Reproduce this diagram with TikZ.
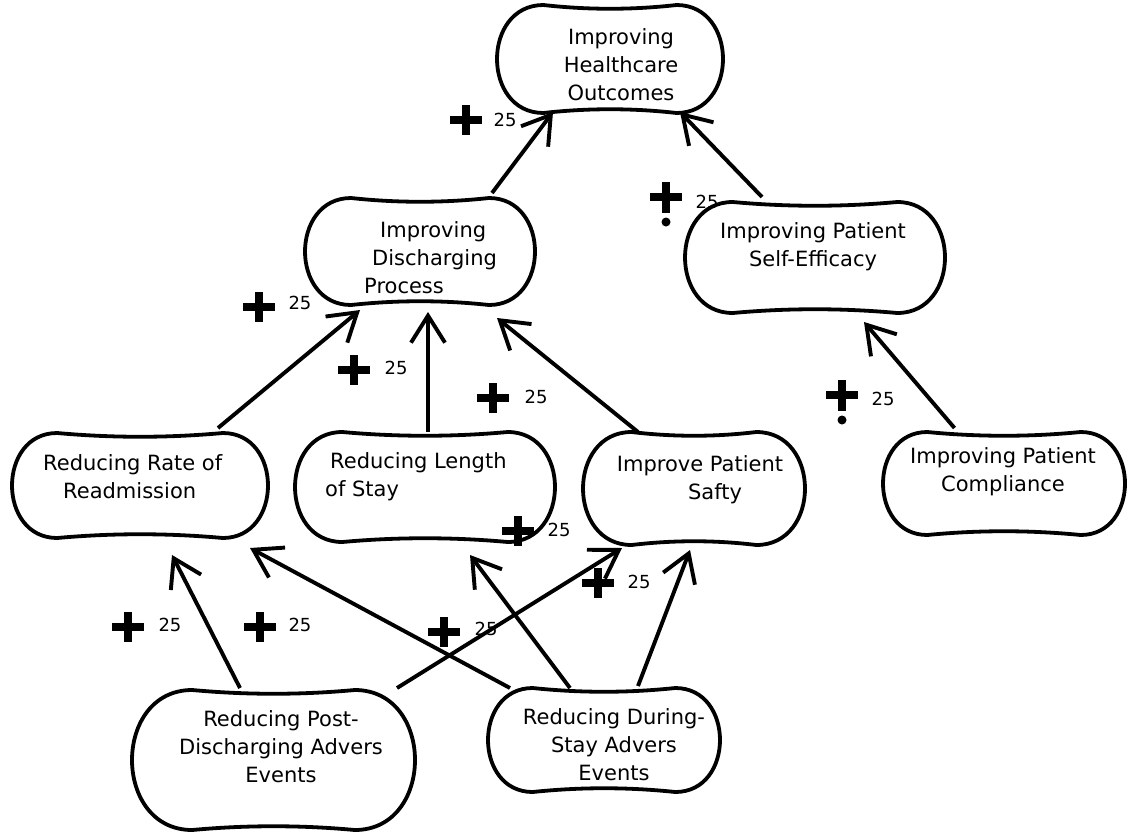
\documentclass[tikz,border=0pt]{standalone}
\usepackage{fontspec}
\setmainfont{DejaVu Sans}
\usetikzlibrary{arrows.meta,calc}
\tikzset{
  boxline/.style={line width=3.8pt, line join=round},
  boxnode/.style={draw=none, inner sep=0pt, rectangle},
  txt/.style={font=\fontsize{21}{28}\selectfont, align=center, inner sep=0pt, text=black},
  arr/.style={line width=3.9pt, -{Straight Barb[length=27pt,width=34pt]}},
  plusline/.style={line width=8.5pt},
  lbl/.style={font=\fontsize{18}{20}\selectfont, inner sep=0pt, text=black}
}
\newcommand\bone[5]{%
  \node[boxnode, minimum width=#4pt, minimum height=#5pt] (#1) at (#2,#3) {};
  \pgfmathsetmacro\bxL{#2-#4/2}\pgfmathsetmacro\bxR{#2+#4/2}%
  \pgfmathsetmacro\bxT{#3-#5/2}\pgfmathsetmacro\bxB{#3+#5/2}%
  \pgfmathsetmacro\bxa{0.43*#5}\pgfmathsetmacro\bxd{(#4-2*\bxa)/3}%
  \draw[boxline] ({\bxL+\bxa},\bxT)
    .. controls ({\bxL+\bxa+\bxd},{\bxT+5}) and ({\bxR-\bxa-\bxd},{\bxT+5}) .. ({\bxR-\bxa},\bxT)
    .. controls ({\bxR+\bxa/3},\bxT) and ({\bxR+\bxa/3},\bxB) .. ({\bxR-\bxa},\bxB)
    .. controls ({\bxR-\bxa-\bxd},{\bxB-5}) and ({\bxL+\bxa+\bxd},{\bxB-5}) .. ({\bxL+\bxa},\bxB)
    .. controls ({\bxL-\bxa/3},\bxB) and ({\bxL-\bxa/3},\bxT) .. cycle;%
}
\newcommand\plusmark[2]{\draw[plusline] ({#1-16},#2) -- ({#1+16},#2) (#1,{#2-15}) -- (#1,{#2+15});}
\newcommand\plusdot[2]{\draw[plusline] ({#1-16},#2) -- ({#1+16},#2) (#1,{#2-15}) -- (#1,{#2+16});
  \fill (#1,{#2+25}) circle (4.5);}
\begin{document}
\begin{tikzpicture}[x=1pt,y=-1pt]
\fill[white] (0,0) rectangle (1127,833);
\useasboundingbox (0,0) rectangle (1127,833);

% boxes
\bone{out}{610}{59}{226}{108}
\bone{dis}{420}{251.5}{230}{107}
\bone{self}{815}{257.5}{260}{111}
\bone{read}{140}{485.5}{256}{105}
\bone{len}{425}{487}{260}{110}
\bone{saf}{694}{488.5}{222}{113}
\bone{comp}{1004}{483.5}{242}{103}
\bone{post}{273.5}{760}{283}{140}
\bone{dur}{604}{740}{232}{104}

% texts
\node[txt] (out-t) at (621,65) {Improving\\Healthcare\\Outcomes};
\node[txt, align=left, anchor=west] (dis-t) at (364,258) {\hspace*{16pt}Improving\\\hspace*{8pt}Discharging\\Process};
\node[txt] (self-t) at (813,247) {Improving Patient\\Self-Efficacy};
\node[txt, align=left, anchor=west] (read-t) at (43,477) {Reducing Rate of\\\hspace*{20pt}Readmission};
\node[txt, align=left, anchor=west] (len-t) at (325,477) {\hspace*{5pt}Reducing Length\\of Stay};
\node[txt] (saf-t) at (700,480) {Improve Patient\\\hspace*{30pt}Safty};
\node[txt] (comp-t) at (1003,472) {Improving Patient\\Compliance};
\node[txt] (post-t) at (281,747) {Reducing Post-\\Discharging Advers\\Events};
\node[txt] (dur-t) at (614,745) {Reducing During-\\Stay Advers\\Events};

% connectors
\draw[arr] ($(dis)+(72,-58.5)$) -- ($(out)+(-57,53)$);
\draw[arr] ($(self)+(-53,-60.5)$) -- ($(out)+(70,53)$);
\draw[arr] ($(read)+(78,-57.5)$) -- ($(dis)+(-60,58.5)$);
\draw[arr] ($(len)+(3,-55)$) -- ($(dis)+(8,60.5)$);
\draw[arr] ($(saf)+(-56,-56.5)$) -- ($(dis)+(77,66.5)$);
\draw[arr] ($(comp)+(-49.5,-55.5)$) -- ($(self)+(49,64.5)$);
\draw[arr] ($(post)+(-33.5,-72)$) -- ($(read)+(32,69.5)$);
\draw[arr] ($(post)+(123.5,-72)$) -- ($(saf)+(-72,59.5)$);
\draw[arr] ($(dur)+(-94,-52)$) -- ($(read)+(110,62.5)$);
\draw[arr] ($(dur)+(-34,-52)$) -- ($(len)+(45,68)$);
\draw[arr] ($(dur)+(34,-54)$) -- ($(saf)+(-4,61.5)$);

% contribution labels
\plusmark{466}{120} \node[lbl] (l1) at (505,120) {25};
\plusdot{666}{197} \node[lbl] (l2) at (707,202) {25};
\plusmark{259}{307} \node[lbl] (l3) at (300,303) {25};
\plusmark{354}{370} \node[lbl] (l4) at (396,368) {25};
\plusmark{493}{398} \node[lbl] (l5) at (536,397) {25};
\plusdot{842}{395} \node[lbl] (l6) at (883,399) {25};
\plusmark{518}{531} \node[lbl] (l7) at (559,530) {25};
\plusmark{598}{583} \node[lbl] (l8) at (639,582) {25};
\plusmark{128}{627} \node[lbl] (l9) at (170,625) {25};
\plusmark{260}{627} \node[lbl] (l10) at (300,625) {25};
\plusmark{444}{632} \node[lbl] (l11) at (486,629) {25};
\end{tikzpicture}
\end{document}
